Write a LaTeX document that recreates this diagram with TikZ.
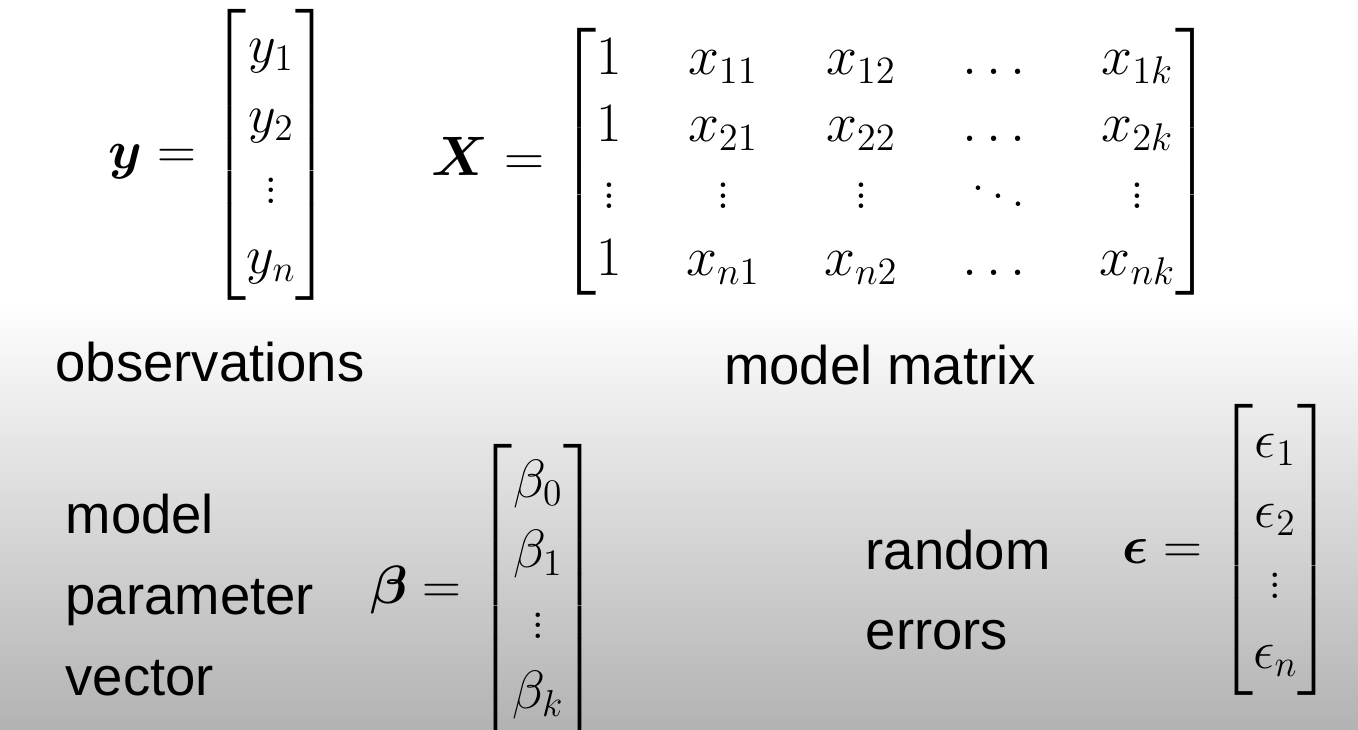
\documentclass[tikz,border=0pt]{standalone}
\usepackage{amsmath,bm}
\usepackage{fontspec}
\newfontfamily\lab{Liberation Sans}
\begin{document}
\begin{tikzpicture}[x=0.1mm,y=-0.1mm,
  mat/.style={inner sep=0pt,font=\huge,scale=0.74,transform shape},
  lbl/.style={inner sep=0pt,font=\lab\fontsize{15.5}{23}\selectfont,align=left}]
\useasboundingbox (0,0) rectangle (1358,730);
\fill[white] (0,0) rectangle (1358,300);
\shade[top color=white,bottom color=black!30] (0,300) rectangle (1358,730);
\node[mat] (ym) at (220,155) {$\bm{y}=\begin{bmatrix}y_1\\[2pt] y_2\\[2pt] \vdots\\[2pt] y_n\end{bmatrix}$};
\node[mat,scale=1.03] (xm) at (822,162) {$\setlength\arraycolsep{12pt}\bm{X}=\begin{bmatrix}1 & x_{11} & x_{12} & \dots & x_{1k}\\ 1 & x_{21} & x_{22} & \dots & x_{2k}\\ \vdots & \vdots & \vdots & \ddots & \vdots\\ 1 & x_{n1} & x_{n2} & \dots & x_{nk}\end{bmatrix}$};
\node[mat] (bm) at (485,590) {$\bm{\beta}=\begin{bmatrix}\beta_0\\[2pt] \beta_1\\[2pt] \vdots\\[2pt] \beta_k\end{bmatrix}$};
\node[mat] (em) at (1228,550) {$\bm{\epsilon}=\begin{bmatrix}\epsilon_1\\[2pt] \epsilon_2\\[2pt] \vdots\\[2pt] \epsilon_n\end{bmatrix}$};
\node[lbl] (obs) at (210,362) {observations};
\node[lbl] (mm) at (880,365) {model matrix};
\node[lbl,anchor=west] (mpv) at (65,595) {model\\parameter\\vector};
\node[lbl,anchor=west] (re) at (865,590) {random\\errors};
\end{tikzpicture}
\end{document}
